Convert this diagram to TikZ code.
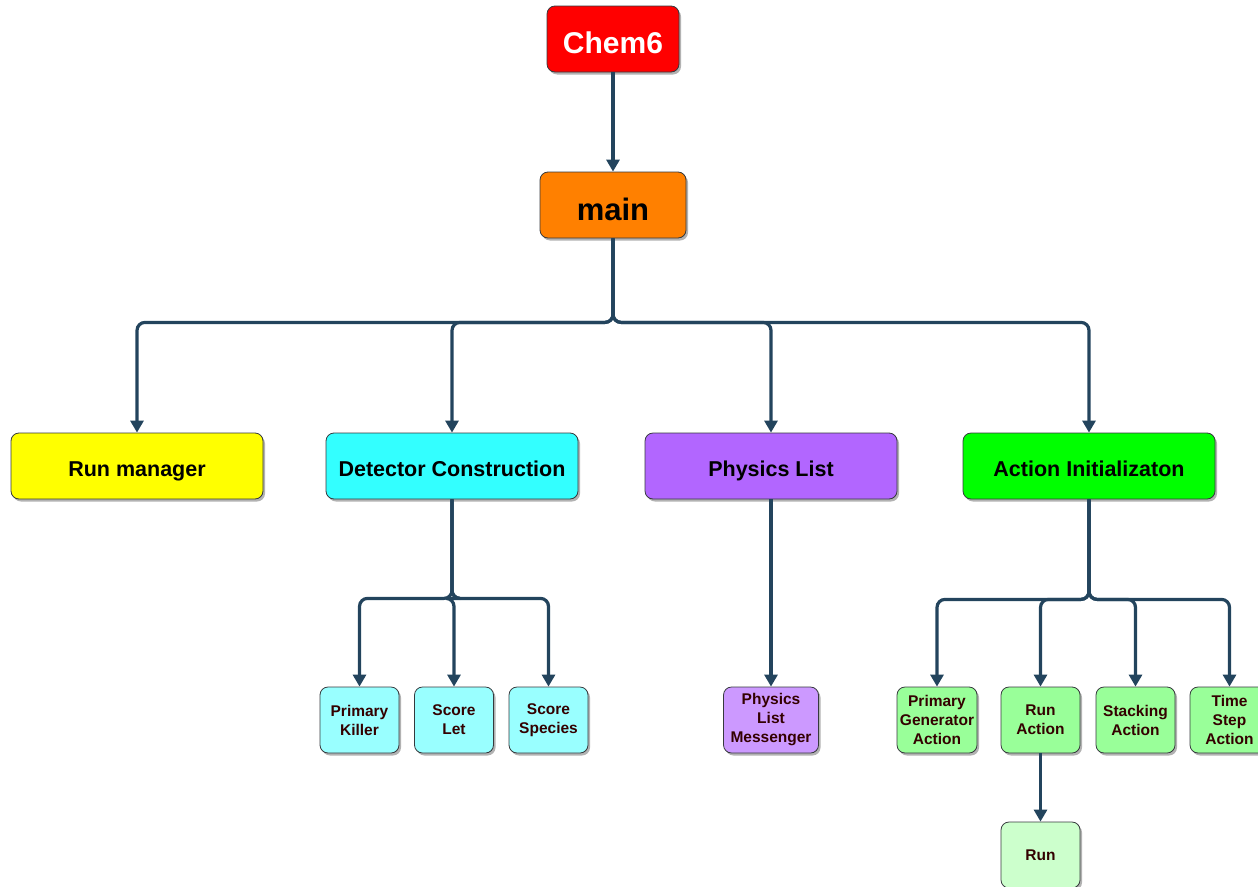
\documentclass[tikz,border=0pt]{standalone}
\usepackage{fontspec}
\setmainfont{Liberation Sans}
\usetikzlibrary{arrows.meta,shadows}
\definecolor{edgeblue}{HTML}{23445D}
\definecolor{bordergray}{HTML}{36393D}
\definecolor{darkred}{HTML}{330000}
\definecolor{cRed}{HTML}{FF0000}
\definecolor{cOrange}{HTML}{FF8000}
\definecolor{cYellow}{HTML}{FFFF00}
\definecolor{cCyan}{HTML}{33FFFF}
\definecolor{cPurple}{HTML}{B266FF}
\definecolor{cGreen}{HTML}{00FF00}
\definecolor{cLCyan}{HTML}{99FFFF}
\definecolor{cLPurple}{HTML}{CC99FF}
\definecolor{cLGreen}{HTML}{99FF99}
\definecolor{cLLGreen}{HTML}{CCFFCC}
\begin{document}
\begin{tikzpicture}[x=1pt,y=-1pt,
  box/.style={draw=bordergray, line width=0.8pt, rounded corners=8pt,
    drop shadow={shadow xshift=2pt,shadow yshift=-2.5pt,opacity=0.3,fill=black},
    inner sep=2pt, align=center},
  big/.style={box, minimum width=252pt, minimum height=66pt, text height=20pt, text depth=0pt,
    font=\bfseries\fontsize{21.5}{26}\selectfont},
  small/.style={box, minimum width=79pt, minimum height=66pt, text=darkred, font=\bfseries\fontsize{15.5}{19}\selectfont},
  conn/.style={draw=edgeblue, line width=3.2pt, rounded corners=8pt, -{Triangle[length=12pt,width=13pt]}}
]
\useasboundingbox (0,0) rectangle (1258,886);
\clip (0,0) rectangle (1258,886);

\node[box, fill=cRed, text=white, minimum width=132pt, minimum height=66pt, text height=28pt, text depth=0pt,
  font=\bfseries\fontsize{30}{36}\selectfont] (chem) at (613,39) {Chem6};
\node[box, fill=cOrange, text=black, minimum width=146pt, minimum height=66pt, text height=30pt, text depth=0pt,
  font=\bfseries\fontsize{31}{37}\selectfont] (main) at (613,205) {main};

\node[big, fill=cYellow] (rm) at (137,466) {Run manager};
\node[big, fill=cCyan] (det) at (452,466) {Detector Construction};
\node[big, fill=cPurple] (pl) at (771,466) {Physics List};
\node[big, fill=cGreen] (act) at (1089,466) {Action Initializaton};

\node[small, fill=cLCyan] (pk) at (359.5,720) {Primary\\Killer};
\node[small, fill=cLCyan] (sl) at (454,720) {Score\\Let};
\node[small, fill=cLCyan] (ss) at (548.5,720) {Score\\Species};

\node[small, fill=cLPurple, minimum width=95pt] (plm) at (771,720) {Physics\\List\\Messenger};

\node[small, fill=cLGreen, minimum width=80pt] (pga) at (937,720) {Primary\\Generator\\Action};
\node[small, fill=cLGreen] (ra) at (1040.5,720) {Run\\Action};
\node[small, fill=cLGreen] (sa) at (1135.5,720) {Stacking\\Action};
\node[small, fill=cLGreen] (tsa) at (1229.5,720) {Time\\Step\\Action};
\node[small, fill=cLLGreen] (run) at (1040.5,855) {Run};

\draw[conn] (chem) -- (main);
\draw[conn] (main.south) -- ++(0,84) -| (rm.north);
\draw[conn] (main.south) -- ++(0,84) -| (det.north);
\draw[conn] (main.south) -- ++(0,84) -| (pl.north);
\draw[conn] (main.south) -- ++(0,84) -| (act.north);

\draw[conn] (det.south) -- ++(0,99) -| (pk.north);
\draw[conn] (det.south) -- ++(0,99) -| (sl.north);
\draw[conn] (det.south) -- ++(0,99) -| (ss.north);

\draw[conn] (pl) -- (plm);

\draw[conn] (act.south) -- ++(0,100) -| (pga.north);
\draw[conn] (act.south) -- ++(0,100) -| (ra.north);
\draw[conn] (act.south) -- ++(0,100) -| (sa.north);
\draw[conn] (act.south) -- ++(0,100) -| (tsa.north);

\draw[conn] (ra) -- (run);
\end{tikzpicture}
\end{document}
